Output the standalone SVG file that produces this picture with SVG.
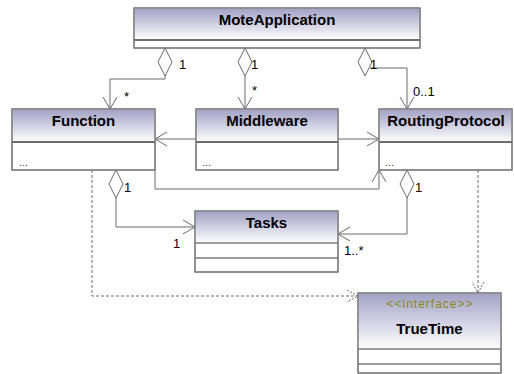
<svg xmlns="http://www.w3.org/2000/svg" width="514" height="374" viewBox="0 0 514 374">
<defs>
<linearGradient id="hg" x1="0" y1="0" x2="0" y2="1">
<stop offset="0" stop-color="#a2a2c6"/>
<stop offset="1" stop-color="#ffffff"/>
</linearGradient>
<marker id="arr" viewBox="-14 -8 15 16" markerWidth="15" markerHeight="16" refX="0" refY="0" orient="auto" markerUnits="userSpaceOnUse">
<path d="M-12,-7 L0,0 L-12,7" fill="none" stroke="#6a6a6a" stroke-width="1"/>
</marker>
<marker id="darr" viewBox="-14 -8 15 16" markerWidth="15" markerHeight="16" refX="0" refY="0" orient="auto" markerUnits="userSpaceOnUse">
<path d="M-11,-6 L0,0 L-11,6" fill="none" stroke="#6a6a6a" stroke-width="1" stroke-dasharray="2,1.5"/>
</marker>
</defs>
<style>
.body{fill:#ffffff;stroke:#7c7c7c;stroke-width:1.2}
.head{fill:url(#hg);stroke:none}
.sep{stroke:#3c3c3c;stroke-width:1.5}
.sep2{stroke:#3c3c3c;stroke-width:1.2}
.name{font-family:"Liberation Sans",Arial,sans-serif;font-weight:bold;font-size:15px;fill:#000;text-anchor:middle}
.dots{font-family:"Liberation Sans",Arial,sans-serif;font-size:11px;fill:#444}
.ster{font-family:"Liberation Sans",Arial,sans-serif;font-size:12px;fill:#8a8a10;text-anchor:middle}
.lbl{font-family:"Liberation Sans",Arial,sans-serif;font-size:13px;fill:#000}
.c{fill:none;stroke:#6a6a6a;stroke-width:1}
.d{fill:none;stroke:#6a6a6a;stroke-width:1;stroke-dasharray:3,2}
.dia{fill:#ffffff;stroke:#6a6a6a;stroke-width:1}
</style>

<g id="connectors">
<path class="c" d="M165,76 V79 H110 V109" marker-end="url(#arr)"/>
<path class="c" d="M245,76 V109" marker-end="url(#arr)"/>
<path class="c" d="M370,68 H407 V109" marker-end="url(#arr)"/>
<path class="c" d="M196,139 H155" marker-end="url(#arr)"/>
<path class="c" d="M338,139 H379" marker-end="url(#arr)"/>
<path class="c" d="M155,170 V189 H379 V170" marker-end="url(#arr)"/>
<path class="c" d="M116,198 V227 H195" marker-end="url(#arr)"/>
<path class="c" d="M407,198 V234 H338" marker-end="url(#arr)"/>
<path class="d" d="M92,170 V296 H358" marker-end="url(#darr)"/>
<path class="d" d="M478,170 V293" marker-end="url(#darr)"/>
<path class="dia" d="M165,48 L172,62 L165,76 L158,62 Z"/>
<path class="dia" d="M245,48 L252,62 L245,76 L238,62 Z"/>
<path class="dia" d="M365,48 L372,62 L365,76 L358,62 Z"/>
<path class="dia" d="M116,170 L123,184 L116,198 L109,184 Z"/>
<path class="dia" d="M407,170 L414,184 L407,198 L400,184 Z"/>
<text class="lbl" x="179" y="69">1</text>
<text class="lbl" x="124" y="101">*</text>
<text class="lbl" x="251" y="69">1</text>
<text class="lbl" x="252" y="95">*</text>
<text class="lbl" x="370" y="69">1</text>
<text class="lbl" x="413" y="96">0..1</text>
<text class="lbl" x="124" y="192">1</text>
<text class="lbl" x="173" y="248">1</text>
<text class="lbl" x="415" y="192">1</text>
<text class="lbl" x="344" y="255">1..*</text>
</g>

<g id="MoteApplication">
<rect class="body" x="134" y="8" width="286" height="40"/>
<rect class="head" x="134.6" y="8.6" width="284.8" height="31.4"/>
<line class="sep" x1="134" y1="40" x2="420" y2="40"/>
<rect x="134" y="8" width="286" height="40" fill="none" stroke="#7c7c7c" stroke-width="1.2"/>
<text class="name" x="277" y="25">MoteApplication</text>
</g>

<g id="Function">
<rect class="body" x="12" y="109" width="143" height="61"/>
<rect class="head" x="12.6" y="109.6" width="141.8" height="32.4"/>
<line class="sep" x1="12" y1="142" x2="155" y2="142"/>
<rect x="12" y="109" width="143" height="61" fill="none" stroke="#7c7c7c" stroke-width="1.2"/>
<text class="name" x="83.5" y="126">Function</text>
<text class="dots" x="19" y="166">...</text>
</g>

<g id="Middleware">
<rect class="body" x="196" y="109" width="142" height="61"/>
<rect class="head" x="196.6" y="109.6" width="140.8" height="32.4"/>
<line class="sep" x1="196" y1="142" x2="338" y2="142"/>
<rect x="196" y="109" width="142" height="61" fill="none" stroke="#7c7c7c" stroke-width="1.2"/>
<text class="name" x="267" y="126">Middleware</text>
<text class="dots" x="202" y="166">...</text>
</g>

<g id="RoutingProtocol">
<rect class="body" x="379" y="109" width="133" height="61"/>
<rect class="head" x="379.6" y="109.6" width="131.8" height="32.4"/>
<line class="sep" x1="379" y1="142" x2="512" y2="142"/>
<rect x="379" y="109" width="133" height="61" fill="none" stroke="#7c7c7c" stroke-width="1.2"/>
<text class="name" x="446" y="126">RoutingProtocol</text>
<text class="dots" x="385" y="166">...</text>
</g>

<g id="Tasks">
<rect class="body" x="195" y="211" width="143" height="61"/>
<rect class="head" x="195.6" y="211.6" width="141.8" height="31.4"/>
<line class="sep2" x1="195" y1="243" x2="338" y2="243"/>
<line class="sep2" x1="195" y1="258" x2="338" y2="258"/>
<rect x="195" y="211" width="143" height="61" fill="none" stroke="#7c7c7c" stroke-width="1.2"/>
<text class="name" x="266.5" y="228">Tasks</text>
</g>

<g id="TrueTime">
<rect class="body" x="358" y="293" width="143" height="80"/>
<rect class="head" x="358.6" y="293.6" width="141.8" height="55.4"/>
<line class="sep2" x1="358" y1="349" x2="501" y2="349"/>
<line class="sep2" x1="358" y1="364" x2="501" y2="364"/>
<rect x="358" y="293" width="143" height="80" fill="none" stroke="#7c7c7c" stroke-width="1.2"/>
<text class="ster" x="429.5" y="308" textLength="86" lengthAdjust="spacing">&lt;&lt;interface&gt;&gt;</text>
<text class="name" x="429.5" y="334">TrueTime</text>
</g>
</svg>
